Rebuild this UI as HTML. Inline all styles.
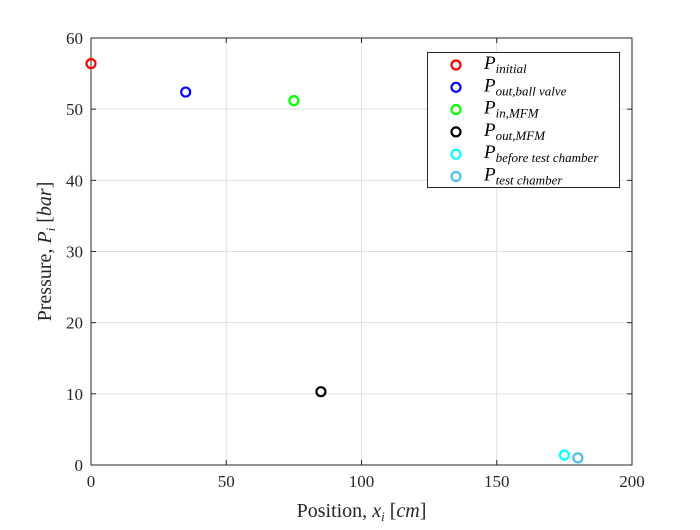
<!DOCTYPE html>
<html><head><meta charset="utf-8"><style>
body{margin:0;background:#fff;}
svg text{font-family:"Liberation Serif",serif;}
</style></head><body>
<svg id="c" width="700" height="525" xmlns="http://www.w3.org/2000/svg"></svg>
<script>
const xs=[0,35,75,85,175,180];
const ys=[56.4,52.4,51.2,10.3,1.4,1.0];
const colors=["#ff0000","#0000ff","#00ff00","#000000","#00ffff","#4dbeee"];
const labelsBase=["P","P","P","P","P","P"];
const labelsSub=["initial","out,ball valve","in,MFM","out,MFM","before test chamber","test chamber"];
const xTicks=[0,50,100,150,200];
const yTicks=[0,10,20,30,40,50,60];
const L=91,R=632,T=38,B=465;
const X=v=>L+(v-0)/200*(R-L);
const Y=v=>B-(v-0)/60*(B-T);
const svg=document.getElementById('c');
const NS="http://www.w3.org/2000/svg";
function mk(tag,attrs,parent){const e=document.createElementNS(NS,tag);for(const k in attrs)e.setAttribute(k,attrs[k]);(parent||svg).appendChild(e);return e;}
const bg=mk('rect',{x:L,y:T,width:R-L,height:B-T,fill:'#fff'});


xTicks.forEach(t=>{
 const g=mk('line',{x1:X(t),x2:X(t),y1:T,y2:B,stroke:'#dfdfdf','stroke-width':1});
 
 
 mk('line',{x1:X(t),x2:X(t),y1:B,y2:B-5,stroke:'#262626'});
 mk('line',{x1:X(t),x2:X(t),y1:T,y2:T+5,stroke:'#262626'});
 const tx=mk('text',{x:X(t),y:B+22,'text-anchor':'middle','font-size':17,fill:'#262626'});tx.textContent=t;
 
 
});
yTicks.forEach(t=>{
 const g=mk('line',{x1:L,x2:R,y1:Y(t),y2:Y(t),stroke:'#dfdfdf','stroke-width':1});
 
 
 mk('line',{x1:L,x2:L+5,y1:Y(t),y2:Y(t),stroke:'#262626'});
 mk('line',{x1:R,x2:R-5,y1:Y(t),y2:Y(t),stroke:'#262626'});
 const tx=mk('text',{x:L-8,y:Y(t)+6,'text-anchor':'end','font-size':17,fill:'#262626'});tx.textContent=t;
 
 
});
const fr=mk('rect',{x:L,y:T,width:R-L,height:B-T,fill:'none',stroke:'#262626','stroke-width':1});


xs.forEach((v,i)=>{
 const c=mk('circle',{cx:X(v),cy:Y(ys[i]),r:4.5,fill:'none',stroke:colors[i],'stroke-width':2.2});
 
 
});
const xt=mk('text',{x:(L+R)/2,y:517,'text-anchor':'middle','font-size':20,fill:'#262626'});
xt.innerHTML='Position, <tspan font-style="italic">x</tspan><tspan font-style="italic" font-size="13" dy="4">i</tspan><tspan dy="-4"> [</tspan><tspan font-style="italic">cm</tspan>]';


const yt=mk('text',{transform:'translate(51,'+((T+B)/2)+') rotate(-90)','text-anchor':'middle','font-size':20,fill:'#262626'});
yt.innerHTML='Pressure, <tspan font-style="italic">P</tspan><tspan font-style="italic" font-size="13" dy="4">i</tspan><tspan dy="-4"> [</tspan><tspan font-style="italic">bar</tspan>]';


const lg=mk('g',{});


mk('rect',{x:427.5,y:52.5,width:192,height:135,fill:'#fff',stroke:'#262626','stroke-width':1},lg);
labelsSub.forEach((s,i)=>{
 const yy=65+i*22.3;
 const m=mk('circle',{cx:456,cy:yy,r:4.5,fill:'none',stroke:colors[i],'stroke-width':2.2},lg);
 
 
 const t=mk('text',{x:484,y:yy+4,'font-size':19,'font-style':'italic',fill:'#000'},lg);
 t.innerHTML=labelsBase[i]+'<tspan font-size="13" dy="4">'+s+'</tspan>';
 
 
});
</script>
</body></html>
